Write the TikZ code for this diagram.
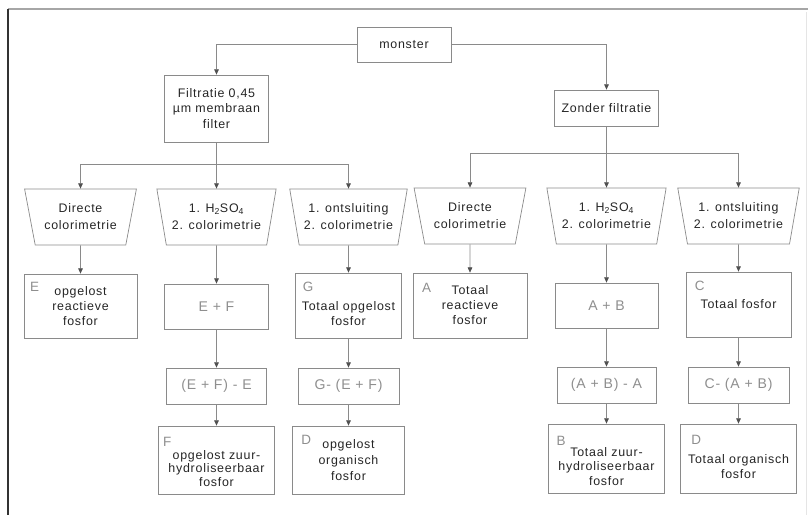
\documentclass[tikz,border=0pt]{standalone}
\usepackage{fontspec}
\setmainfont[LetterSpace=6]{Liberation Sans}
\usetikzlibrary{arrows.meta,positioning,shapes.geometric}
\definecolor{linegray}{HTML}{8A8A8A}
\definecolor{tipgray}{HTML}{505050}
\definecolor{txt}{HTML}{252525}
\definecolor{tagc}{HTML}{8E8E8E}
\tikzset{
  wh/.style 2 args={minimum width=#1*0.03cm, minimum height=#2*0.03cm},
  box/.style={rectangle, draw=linegray, line width=0.6pt, align=center, text=txt,
              inner sep=0pt, font=\fontsize{10.6}{13.6}\selectfont},
  res/.style={box, font=\fontsize{10.6}{12.8}\selectfont},
  sumbox/.style={box, text=tagc, font=\fontsize{12}{14}\selectfont},
  trap/.style={trapezium, trapezium left angle=108, trapezium right angle=108,
               trapezium stretches=true, draw=linegray, line width=0.6pt, align=center,
               text=txt, inner sep=0pt, minimum height=56*0.03cm,
               font=\fontsize{10.6}{14.5}\selectfont},
  tag/.style={text=tagc, inner sep=0pt, font=\fontsize{11.5}{13}\selectfont},
  arr/.style={-{Triangle[length=0.16cm, width=0.14cm, color=tipgray]}, draw=linegray, line width=0.6pt},
}
\newcommand{\hso}{1. H\textsubscript{2}SO\textsubscript{4}\\2. colorimetrie}

\begin{document}
\begin{tikzpicture}[x=0.03cm, y=-0.03cm]
  \useasboundingbox (0,0) rectangle (808,515);
  % frame
  \draw[line width=1.6pt, gray!70] (8,9) -- (808,9);
  \draw[line width=1.8pt, black!80] (8,9) -- (8,515);
  \draw[line width=0.4pt, gray!20] (806,12) -- (806,515);

  % sample and the two routes
  \node[box, wh={94}{35}] (monster) at (404,44.5) {monster};
  \node[box, wh={104}{67}] (filt) at (216.5,108.5) {Filtratie 0,45\\µm membraan\\filter};
  \node[box, wh={104}{36}] (zonder) at (606.5,108) {Zonder filtratie};
  \draw[arr] (monster.west) -| (filt.north);
  \draw[arr] (monster.east) -| (zonder.north);

  % treatments
  \node[trap, minimum width=112*0.03cm] (t1) at (80.5,217) {Directe\\colorimetrie};
  \node[trap, minimum width=120*0.03cm] (t2) at (216.5,217) {\hso};
  \node[trap, minimum width=118*0.03cm] (t3) at (348.5,217) {1. ontsluiting\\2. colorimetrie};
  \node[trap, minimum width=112*0.03cm] (t4) at (470,216) {Directe\\colorimetrie};
  \node[trap, minimum width=120*0.03cm] (t5) at (606.5,216) {\hso};
  \node[trap, minimum width=122*0.03cm] (t6) at (738.5,216) {1. ontsluiting\\2. colorimetrie};

  \coordinate (busL) at (216.5,164);
  \coordinate (busR) at (606.5,153);
  \draw[arr] (filt.south) -- (t2.north);
  \draw[arr] (busL) -| (t1.north);
  \draw[arr] (busL) -| (t3.north);
  \draw[arr] (zonder.south) -- (t5.north);
  \draw[arr] (busR) -| (t4.north);
  \draw[arr] (busR) -| (t6.north);

  % filtered side
  \node[res, wh={113}{64}] (E) at (80.5,306) {opgelost\\reactieve\\fosfor};
  \node[sumbox, wh={104}{45}] (EF) at (216.5,306.5) {E + F};
  \node[res, wh={106}{65}] (G) at (348.5,305.5) {\strut\\Totaal opgelost\\fosfor};
  \node[sumbox, wh={100}{36}] (EFmE) at (216.5,386) {(E + F) - E};
  \node[sumbox, wh={101}{36}] (GmEF) at (348.5,386) {G- (E + F)};
  \node[res, wh={116}{68}, font=\fontsize{10.6}{11.5}\selectfont] (F) at (216.5,460) {\strut\\[2pt]opgelost zuur-\\hydroliseerbaar\\fosfor};
  \node[box, wh={112}{68}] (Dl) at (348.5,460) {opgelost\\organisch\\fosfor};

  % unfiltered side
  \node[res, wh={114}{65}] (A) at (470,305.5) {Totaal\\reactieve\\fosfor};
  \node[sumbox, wh={103}{45}] (AB) at (606.5,305.5) {A + B};
  \node[res, wh={105}{65}] (C) at (738.5,304.5) {Totaal fosfor};
  \node[sumbox, wh={99}{36}] (ABmA) at (606.5,385) {(A + B) - A};
  \node[sumbox, wh={101}{36}] (CmAB) at (738.5,385) {C- (A + B)};
  \node[res, wh={116}{69}, font=\fontsize{10.6}{12.3}\selectfont] (B) at (606.5,458.5) {\strut\\Totaal zuur-\\hydroliseerbaar\\fosfor};
  \node[res, wh={116}{69}] (Dr) at (738.5,458.5) {\strut\\Totaal organisch\\fosfor};

  % letters
  \node[tag] (tE) at ([shift={(11,13)}]E.north west) {E};
  \node[tag] (tG) at ([shift={(13,14)}]G.north west) {G};
  \node[tag] (tF) at ([shift={(9,16)}]F.north west) {F};
  \node[tag] (tDl) at ([shift={(14,14)}]Dl.north west) {D};
  \node[tag] (tA) at ([shift={(14,15)}]A.north west) {A};
  \node[tag] (tC) at ([shift={(14,14)}]C.north west) {C};
  \node[tag] (tB) at ([shift={(13,17)}]B.north west) {B};
  \node[tag] (tDr) at ([shift={(16,16)}]Dr.north west) {D};

  % chains
  \draw[arr] (t1.south) -- (E.north);
  \draw[arr] (t2.south) -- (EF.north);
  \draw[arr] (EF.south) -- (EFmE.north);
  \draw[arr] (EFmE.south) -- (F.north);
  \draw[arr] (t3.south) -- (G.north);
  \draw[arr] (G.south) -- (GmEF.north);
  \draw[arr] (GmEF.south) -- (Dl.north);
  \draw[arr] (t4.south) -- (A.north);
  \draw[arr] (t5.south) -- (AB.north);
  \draw[arr] (AB.south) -- (ABmA.north);
  \draw[arr] (ABmA.south) -- (B.north);
  \draw[arr] (t6.south) -- (C.north);
  \draw[arr] (C.south) -- (CmAB.north);
  \draw[arr] (CmAB.south) -- (Dr.north);
\end{tikzpicture}
\end{document}
